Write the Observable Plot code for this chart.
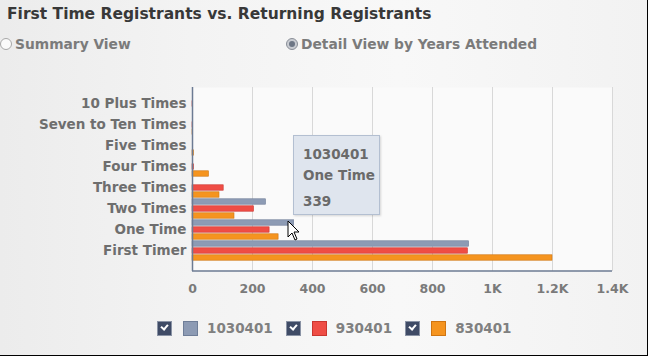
<!DOCTYPE html>
<html>
<head>
<meta charset="utf-8">
<script src="https://cdn.jsdelivr.net/npm/d3@7"></script>
<script src="https://cdn.jsdelivr.net/npm/@observablehq/plot@0.6"></script>
<style>
  html, body { margin: 0; padding: 0; }
  body { width: 648px; height: 356px; overflow: hidden; position: relative;
    background: linear-gradient(to right, #ececec 0px, #f3f3f3 190px, #f8f8f8 400px, #f2f2f2 648px);
    font-family: "DejaVu Sans", sans-serif; }
  #frame { position: absolute; left: 0; top: 0; width: 647px; height: 355px;
    border-right: 1px solid #000; border-bottom: 1px solid #000; pointer-events: none; }
  #title { position: absolute; left: 7px; top: 5px; font-size: 15.5px; font-weight: bold; color: #383838; white-space: nowrap; }
  .radio { position: absolute; top: 36px; font-size: 13.8px; font-weight: bold; color: #7b7b7b; white-space: nowrap; display: flex; align-items: center; }
  .dot { width: 12px; height: 12px; border-radius: 50%; border: 1px solid #a8a8a8; background: #fafafa; margin-right: 3px; box-sizing: border-box; position: relative; }
  .dot.on::after { content: ""; position: absolute; left: 2px; top: 2px; width: 6px; height: 6px; border-radius: 50%; background: #6d7685; }
  .dot.on { background: #c9ccd2; border-color: #8a8f98; }
  #chart { position: absolute; left: 0; top: 60px; }
  #legend { position: absolute; top: 320px; left: 157px; display: flex; align-items: center; font-size: 13.5px; font-weight: bold; color: #808080; }
  .cb { width: 15px; height: 15px; background: #3f4b66; border: 1px solid #8a93a5; box-sizing: border-box; margin-right: 11px; position: relative; }
  .cb::after { content: ""; position: absolute; left: 3px; top: 2px; width: 5px; height: 3px; border-left: 2px solid #fff; border-bottom: 2px solid #fff; transform: rotate(-50deg); }
  .sw { width: 15px; height: 15px; margin-right: 9px; box-sizing: border-box; }
  .lab { margin-right: 13px; }
  #tip { position: absolute; left: 293px; top: 135px; width: 87px; height: 80px; box-sizing: border-box;
    background: #dfe5ee; border: 1px solid #b3bfd1; box-shadow: 1px 1px 2px rgba(0,0,0,0.15);
    font-size: 13.5px; font-weight: bold; color: #6a6a6a; padding: 8px 0 0 9px; line-height: 21px; }
  #cursor { position: absolute; left: 287px; top: 220px; }
</style>
</head>
<body>
<div id="title">First Time Registrants vs. Returning Registrants</div>
<div class="radio" style="left:0px;"><span class="dot"></span>Summary View</div>
<div class="radio" style="left:286px;"><span class="dot on"></span>Detail View by Years Attended</div>
<div id="chart"></div>
<div id="legend"></div>
<div id="tip"><div>1030401</div><div>One Time</div><div style="margin-top:5px">339</div></div>
<svg id="cursor" width="14" height="22" viewBox="0 0 14 22"><path d="M1,1 L1,17 L5,13 L8,20 L10,19 L7,12 L12,12 Z" fill="#fff" stroke="#000" stroke-width="1"/></svg>
<div id="frame"></div>
<script>
// ---- data ----
const categories = ["10 Plus Times", "Seven to Ten Times", "Five Times", "Four Times", "Three Times", "Two Times", "One Time", "First Timer"];
const seriesNames = ["1030401", "930401", "830401"];
const values1030401 = [0, 0, 0, 0, 0, 245, 339, 922];
const values930401 = [1, 1, 0, 5, 104, 205, 257, 918];
const values830401 = [0, 1, 5, 55, 90, 140, 287, 1200];
const xTicks = [0, 200, 400, 600, 800, 1000, 1200, 1400];
const xTickLabels = ["0", "200", "400", "600", "800", "1K", "1.2K", "1.4K"];

const colors = ["#8d9bb4", "#ef4d45", "#f5941f"];
const strokes = ["#6f7e98", "#c9362f", "#cf7512"];
const allValues = [values1030401, values930401, values830401];
const offsets = [-7, 0, 7];

const rows = allValues.map(vals => categories.map((c, i) => ({category: c, value: vals[i]})));

const bandInset = (21.57 - 6) / 2;
const frameH = 250 - 27 - 39;

const plot = Plot.plot({
  width: 648,
  height: 250,
  marginLeft: 192,
  marginRight: 36,
  marginTop: 27,
  marginBottom: 39,
  style: {background: "transparent", fontFamily: "'DejaVu Sans', sans-serif", overflow: "visible"},
  x: {domain: [0, 1400]},
  y: {domain: categories, paddingInner: 0, paddingOuter: 0.264, align: 0.37},
  marks: [
    Plot.frame({fill: "#fafafa", stroke: "none"}),
    Plot.ruleX(xTicks, {stroke: "#d8d8d8", strokeWidth: 1}),
    ...rows.map((data, k) => Plot.barX(data.filter(d => d.value > 0), {
      x: "value", y: "category",
      fill: colors[k], stroke: strokes[k], strokeWidth: 0.6,
      insetTop: bandInset, insetBottom: bandInset, dy: offsets[k]
    })),
    // bottom axis line
    Plot.barX([xTicks[0]], {x1: xTicks[0], x2: xTicks[xTicks.length - 1], insetTop: frameH - 1.5, dy: 0.75, fill: "#6c7b93"}),
    Plot.ruleX([0], {stroke: "#6c7b93", strokeWidth: 1.5}),
    Plot.axisX({ticks: xTicks, tickFormat: (d) => xTickLabels[xTicks.indexOf(d)], tickSize: 0, tickPadding: 13,
      fontSize: 12.5, fontWeight: "bold", fill: "#7a7a7a", label: null}),
    Plot.axisY({tickSize: 0, tickPadding: 6, fontSize: 13.5, fontWeight: "bold", fill: "#6e6e6e", label: null})
  ]
});
document.getElementById("chart").appendChild(plot);

const legend = document.getElementById("legend");
seriesNames.forEach((n, k) => {
  const cb = document.createElement("span"); cb.className = "cb"; legend.appendChild(cb);
  const sw = document.createElement("span"); sw.className = "sw";
  sw.style.background = colors[k]; sw.style.border = "1px solid " + strokes[k]; legend.appendChild(sw);
  const lab = document.createElement("span"); lab.className = "lab"; lab.textContent = n; legend.appendChild(lab);
});
</script>
</body>
</html>
